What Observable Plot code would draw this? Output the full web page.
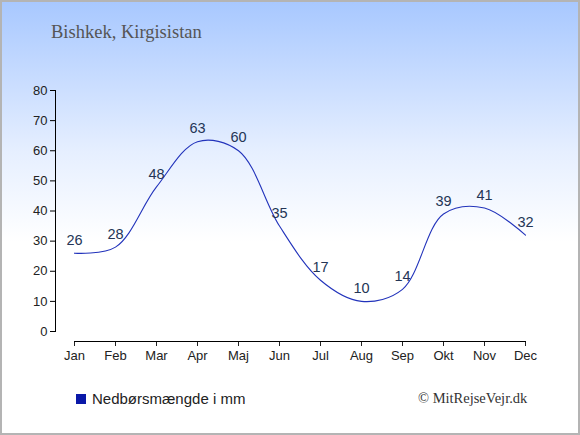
<!DOCTYPE html>
<html><head><meta charset="utf-8">
<script src="https://cdn.jsdelivr.net/npm/d3@7"></script>
<script src="https://cdn.jsdelivr.net/npm/@observablehq/plot@0.6"></script>
<style>
html,body{margin:0;padding:0;}
#wrap{position:relative;width:576px;height:431px;border:2px solid #b4b4b4;background:linear-gradient(#a8c8ff 0px,#e6efff 150px,#ffffff 240px);overflow:hidden;}
#title{position:absolute;left:49px;top:20px;font-family:"Liberation Serif",serif;font-size:18.5px;color:#555;}
#chart{position:absolute;left:-2px;top:-2px;}
#legend{position:absolute;left:74px;top:388px;font-family:"Liberation Sans",Arial,sans-serif;font-size:15px;color:#222;display:flex;align-items:center;}
#legend span.sw{display:inline-block;width:10px;height:10px;background:#0a18a8;margin-right:6px;}
#copy{position:absolute;left:416px;top:388px;font-family:"Liberation Serif",serif;font-size:14.5px;color:#333;}
</style></head>
<body>
<div id="wrap">
<div id="chart"></div>
<div id="title">Bishkek, Kirgisistan</div>
<div id="legend"><span class="sw"></span>Nedbørsmængde i mm</div>
<div id="copy">© MitRejseVejr.dk</div>
</div>
<script>
const months = ["Jan","Feb","Mar","Apr","Maj","Jun","Jul","Aug","Sep","Okt","Nov","Dec"];
const values = [26,28,48,63,60,35,17,10,14,39,41,32];
const yTicks = [0,10,20,30,40,50,60,70,80];
const data = months.map((m,i)=>({month:m, value:values[i]}));

const chart = Plot.plot({
  width: 580, height: 435,
  marginLeft: 55, marginRight: 55, marginTop: 90, marginBottom: 94,
  insetLeft: 19, insetBottom: 10,
  style: {background: "transparent", fontFamily: "'Liberation Sans', Arial, sans-serif", fontSize: "13px", color: "#222", maxWidth: "none"},
  x: {type: "point", domain: months, padding: 0},
  y: {domain: [0, 80]},
  marks: [
    Plot.axisY({ticks: yTicks, tickSize: 5, tickPadding: 3, label: null, fontSize: 13, stroke: "#000"}),
    Plot.axisX({tickSize: 5, tickPadding: 4, label: null, fontSize: 13}),
    Plot.frame({anchor: "left", insetBottom: 10, stroke: "#000"}),
    Plot.frame({anchor: "bottom", insetLeft: 19, stroke: "#000"}),
    Plot.line(data, {x: "month", y: "value", curve: "catmull-rom", stroke: "#2233bb", strokeWidth: 1.1}),
    Plot.text(data, {x: "month", y: "value", text: d => String(d.value), dy: -13, fill: "#243556", fontSize: 14.5})
  ]
});
chart.style.maxWidth = "none";
document.getElementById("chart").appendChild(chart);
</script>
</body></html>
